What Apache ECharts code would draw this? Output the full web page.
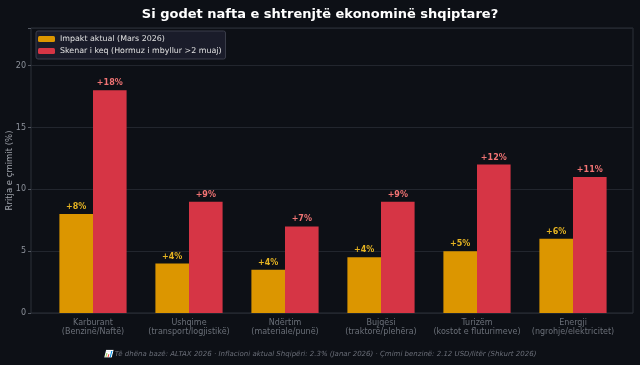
<!DOCTYPE html>
<html><head><meta charset="utf-8">
<script src="https://cdn.jsdelivr.net/npm/echarts@6/dist/echarts.min.js"></script>
<style>html,body{margin:0;padding:0;background:#0d1016;}#c{width:640px;height:365px;}</style>
</head><body><div id="c"></div>
<script>
const categories = ["Karburant\n(Benzinë/Naftë)", "Ushqime\n(transport/logjistikë)", "Ndërtim\n(materiale/punë)", "Bujqësi\n(traktorë/plehëra)", "Turizëm\n(kostot e fluturimeve)", "Energji\n(ngrohje/elektricitet)"];
const currentImpact = [8, 4, 3.5, 4.5, 5, 6];
const currentLabels = ["+8%", "+4%", "+4%", "+4%", "+5%", "+6%"];
const worstCase = [18, 9, 7, 9, 12, 11];
const worstLabels = ["+18%", "+9%", "+7%", "+9%", "+12%", "+11%"];
const yTicks = [0, 5, 10, 15, 20];

const FONT = "DejaVu Sans";
const chart = echarts.init(document.getElementById('c'), null, {renderer: 'canvas'});
const yMax = 23.04;
chart.setOption({
  backgroundColor: '#0d1016',
  animation: false,
  title: {
    text: 'Si godet nafta e shtrenjtë ekonominë shqiptare?',
    left: 'center', top: 3,
    textStyle: {color: '#ffffff', fontFamily: FONT, fontWeight: 'bold', fontSize: 13}
  },
  legend: {
    left: 36, top: 31, orient: 'vertical',
    itemWidth: 17, itemHeight: 6, itemGap: 4,
    padding: [4, 4, 4, 2],
    backgroundColor: '#1a1c2a', borderColor: '#3a3d4a', borderWidth: 1, borderRadius: 2,
    textStyle: {color: '#e0e0e0', fontFamily: FONT, fontSize: 7.9},
    data: ['Impakt aktual (Mars 2026)', 'Skenar i keq (Hormuz i mbyllur >2 muaj)']
  },
  graphic: [{
    type: 'text', left: 'center', top: 351,
    style: {
      text: '📊 Të dhëna bazë: ALTAX 2026 · Inflacioni aktual Shqipëri: 2.3% (Janar 2026) · Çmimi benzinë: 2.12 USD/litër (Shkurt 2026)',
      fill: '#6a6e78', font: 'italic 7px "DejaVu Sans"'
    }
  }],
  grid: [
    {left: 31, right: 7, top: 28, bottom: 52, show: true, borderColor: '#2c3039', borderWidth: 1, backgroundColor: '#0d1016', outerBoundsMode: 'none', containLabel: false},
    {left: 45, right: 19, top: 28, bottom: 52, outerBoundsMode: 'none', containLabel: false}
  ],
  xAxis: [
    {gridIndex: 0, type: 'value', min: 0, max: 1, show: false},
    {gridIndex: 1, type: 'category', data: categories,
     axisLine: {show: false}, axisTick: {show: false},
     axisLabel: {interval: 0, color: '#6b7079', fontFamily: FONT, fontSize: 8, lineHeight: 9, margin: 5}}
  ],
  yAxis: [
    {gridIndex: 0, type: 'value', min: 0, max: yMax, interval: 5,
     name: 'Rritja e çmimit (%)', nameLocation: 'middle', nameGap: 17, nameMoveOverlap: false,
     nameTextStyle: {color: '#a0a4ac', fontFamily: FONT, fontSize: 8.5},
     axisLine: {show: false},
     axisTick: {show: true, length: 3, lineStyle: {color: '#555a63'}},
     axisLabel: {color: '#8d929b', fontFamily: FONT, fontSize: 8, margin: 5,
       formatter: v => yTicks.includes(v) ? String(v) : ''},
     splitLine: {show: true, lineStyle: {color: '#22262e', width: 1}}},
    {gridIndex: 1, type: 'value', min: 0, max: yMax, show: false, splitLine: {show: false}}
  ],
  series: [
    {name: 'Impakt aktual (Mars 2026)', type: 'bar', xAxisIndex: 1, yAxisIndex: 1,
     data: currentImpact, barWidth: '35%', barGap: '0%',
     itemStyle: {color: '#dc9600'},
     label: {show: true, position: 'top', distance: 3,
       formatter: p => currentLabels[p.dataIndex],
       color: '#e6b422', fontFamily: FONT, fontWeight: 'bold', fontSize: 8}},
    {name: 'Skenar i keq (Hormuz i mbyllur >2 muaj)', type: 'bar', xAxisIndex: 1, yAxisIndex: 1,
     data: worstCase, barWidth: '35%', barGap: '0%',
     itemStyle: {color: '#d63545'},
     label: {show: true, position: 'top', distance: 3,
       formatter: p => worstLabels[p.dataIndex],
       color: '#f27474', fontFamily: FONT, fontWeight: 'bold', fontSize: 8}}
  ]
});
</script></body></html>
